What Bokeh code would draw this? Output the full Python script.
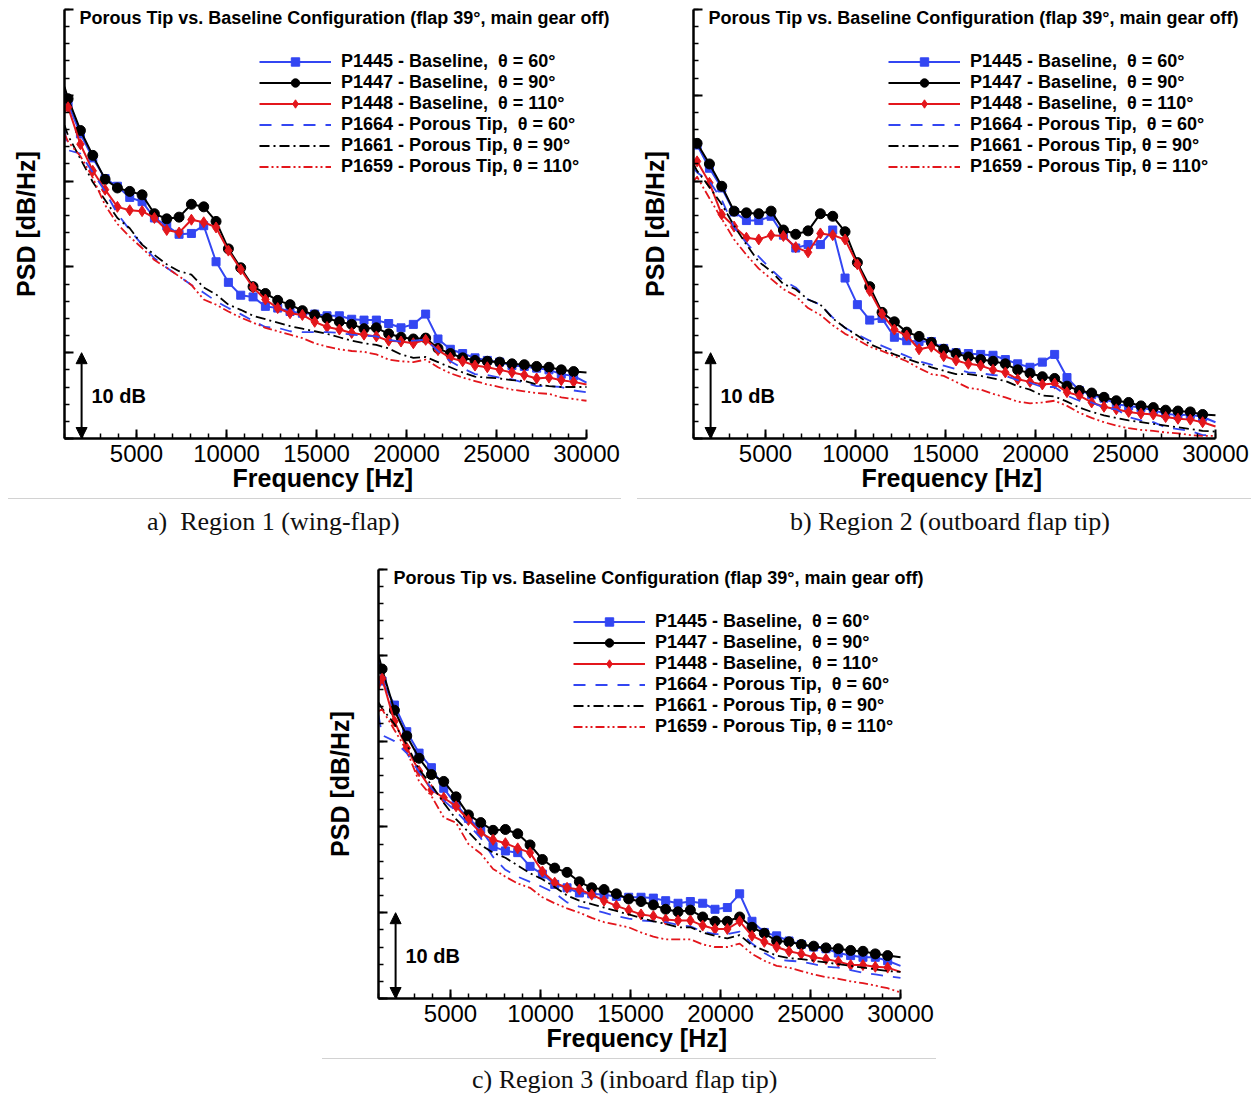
from bokeh.plotting import figure
from bokeh.models import (Range1d, SingleIntervalTicker, CustomJSTickFormatter, Legend,
                          LegendItem, Label, Arrow, NormalHead, Div, Spacer, Title)
from bokeh.layouts import column, row
from bokeh.embed import file_html
from bokeh.resources import INLINE

# ---------------- data (PSD, dB relative to the bottom of the axis) ----------------
FREQ = [1000, 1200, 1885, 2570, 3255, 3940, 4625, 5310, 5995, 6680, 7365,
        8050, 8735, 9420, 10105, 10790, 11475, 12160, 12845, 13530, 14215, 14900,
        15585, 16270, 16955, 17640, 18325, 19010, 19695, 20380, 21065, 21750, 22435,
        23120, 23805, 24490, 25175, 25860, 26545, 27230, 27915, 28600, 29285, 30000]

# Region 1 (wing-flap)
A_P1445 = [40.5, 39.0, 35.5, 32.7, 30.3, 29.4, 28.1, 27.6, 25.7, 24.8, 23.8,
           23.9, 24.8, 20.6, 18.2, 16.7, 16.5, 15.4, 15.2, 14.8, 14.6, 14.5,
           14.3, 14.3, 13.9, 13.8, 13.8, 13.4, 12.9, 13.3, 14.5, 11.6, 10.4,
           9.9, 9.4, 9.1, 8.9, 8.5, 8.4, 8.2, 8.0, 7.5, 7.3, 6.5]
A_P1447 = [41.0, 39.6, 35.9, 33.0, 30.2, 29.2, 28.8, 28.4, 26.2, 25.6, 25.8,
           27.3, 27.0, 25.3, 22.1, 19.9, 17.7, 16.9, 16.1, 15.6, 14.9, 14.4,
           14.0, 13.6, 13.3, 12.8, 12.9, 12.2, 11.8, 11.6, 11.7, 10.5, 9.9,
           9.4, 9.1, 9.0, 8.9, 8.7, 8.6, 8.4, 8.3, 8.0, 7.8, 7.7]
A_P1448 = [38.0, 38.6, 34.3, 31.2, 29.0, 27.0, 26.6, 26.5, 25.7, 24.3, 24.0,
           25.5, 25.2, 24.6, 21.9, 19.7, 17.6, 16.2, 15.2, 14.6, 14.4, 13.6,
           13.0, 12.7, 12.3, 12.1, 11.9, 11.4, 11.3, 11.1, 11.5, 10.3, 9.4,
           9.0, 8.5, 8.3, 8.0, 7.7, 7.4, 7.0, 7.1, 6.8, 6.6, 6.3]
A_P1664 = [36.0, 33.6, 33.2, 31.0, 28.8, 26.2, 24.3, 22.6, 21.0, 19.9, 18.9,
           17.9, 17.0, 16.0, 15.2, 14.5, 13.7, 13.0, 12.9, 12.5, 12.4, 12.4,
           12.4, 12.3, 12.1, 12.0, 11.9, 11.5, 11.3, 11.4, 11.5, 10.2, 9.0,
           8.2, 7.5, 7.4, 7.1, 6.9, 6.5, 6.1, 6.1, 6.0, 5.6, 5.4]
A_P1661 = [36.5, 35.3, 32.6, 29.9, 27.8, 25.7, 24.5, 22.6, 21.4, 20.3, 19.5,
           19.1, 17.6, 16.8, 15.6, 15.0, 14.3, 13.9, 13.5, 13.1, 12.8, 12.5,
           12.2, 11.8, 11.4, 11.1, 10.9, 10.5, 9.8, 9.4, 9.5, 8.9, 8.3,
           7.7, 7.2, 7.1, 7.0, 6.8, 6.7, 6.3, 6.1, 6.0, 6.0, 6.0]
A_P1659 = [35.5, 34.6, 32.9, 30.4, 27.2, 25.0, 23.5, 22.2, 20.8, 19.9, 18.9,
           17.9, 16.2, 15.6, 14.8, 14.1, 13.5, 12.9, 12.5, 12.1, 11.7, 11.1,
           10.7, 10.4, 10.2, 10.1, 9.8, 9.2, 9.0, 8.9, 9.2, 8.3, 7.6,
           7.1, 6.7, 6.3, 6.0, 5.7, 5.5, 5.3, 5.2, 4.8, 4.6, 4.4]

# Region 2 (outboard flap tip)
B_P1445 = [35.0, 34.2, 31.5, 29.2, 26.4, 25.4, 25.4, 25.9, 23.7, 22.2, 22.6,
           22.6, 24.3, 18.7, 15.6, 13.8, 14.0, 11.8, 11.4, 11.3, 11.3, 10.5,
           10.0, 9.9, 9.8, 9.7, 9.2, 8.7, 8.3, 8.9, 9.8, 7.1, 5.6,
           5.1, 4.7, 4.0, 3.8, 3.6, 3.3, 2.9, 2.7, 2.8, 2.5, 1.9]
B_P1447 = [35.0, 34.4, 32.0, 29.4, 26.5, 26.3, 26.2, 26.5, 24.3, 23.8, 24.2,
           26.2, 25.9, 24.1, 20.5, 17.7, 14.7, 13.6, 12.4, 11.9, 11.2, 10.4,
           9.9, 9.5, 9.2, 9.0, 8.7, 8.0, 7.6, 7.2, 7.0, 6.1, 5.6,
           5.3, 4.8, 4.4, 4.2, 3.8, 3.6, 3.3, 3.2, 3.1, 2.8, 2.7]
B_P1448 = [32.0, 32.3, 29.8, 26.1, 24.7, 23.4, 23.2, 23.7, 23.6, 22.3, 21.7,
           23.9, 23.7, 23.2, 20.3, 17.2, 14.5, 12.7, 12.0, 10.4, 10.7, 9.6,
           9.1, 8.7, 8.5, 8.0, 7.7, 6.9, 6.6, 6.3, 6.4, 5.4, 5.0,
           4.2, 3.7, 3.4, 3.1, 2.9, 2.8, 2.5, 2.3, 2.2, 1.9, 1.4]
B_P1664 = [31.5, 31.0, 30.0, 27.8, 24.6, 22.8, 21.2, 19.7, 18.4, 17.6, 16.2,
           15.6, 14.1, 12.9, 12.1, 11.4, 10.8, 10.2, 9.6, 9.0, 8.6, 8.5,
           8.1, 7.7, 7.6, 7.4, 7.3, 6.8, 6.5, 6.0, 6.0, 5.0, 4.4,
           4.2, 3.6, 3.4, 2.5, 2.1, 1.9, 1.3, 1.1, 0.9, 0.4, 0.4]
B_P1661 = [32.0, 31.2, 29.3, 27.3, 24.8, 22.6, 20.6, 19.5, 18.0, 17.4, 16.2,
           15.6, 14.0, 12.9, 12.0, 11.0, 10.4, 9.8, 9.3, 8.8, 8.3, 7.9,
           7.5, 7.5, 7.3, 7.0, 6.7, 6.1, 5.7, 5.0, 4.9, 4.3, 3.6,
           3.1, 2.7, 2.4, 2.1, 1.9, 1.7, 1.5, 1.3, 1.1, 0.9, 0.8]
B_P1659 = [30.0, 30.5, 28.0, 25.6, 23.2, 21.4, 19.8, 18.6, 17.4, 16.6, 15.2,
           14.4, 13.2, 12.2, 11.5, 10.7, 10.2, 9.6, 9.0, 8.2, 7.5, 7.3,
           6.6, 5.9, 5.7, 5.2, 4.8, 4.3, 4.1, 4.2, 4.4, 3.8, 3.0,
           2.4, 1.9, 1.5, 1.2, 1.0, 0.9, 0.7, 0.6, 0.4, 0.3, 0.3]

# Region 3 (inboard flap tip)
C_P1445 = [40.0, 37.0, 34.2, 31.1, 28.6, 26.9, 24.5, 22.6, 21.0, 19.7, 17.7,
           17.2, 17.0, 15.4, 14.5, 13.3, 12.9, 12.3, 12.2, 12.1, 11.9, 11.8,
           11.8, 11.7, 11.4, 11.1, 11.3, 11.1, 10.4, 10.6, 12.2, 9.0, 7.7,
           7.3, 6.7, 6.3, 6.0, 5.8, 5.3, 5.0, 4.8, 4.8, 4.4, 3.8]
C_P1447 = [40.0, 38.4, 33.6, 30.6, 28.0, 26.1, 25.3, 23.5, 21.4, 20.5, 19.6,
           19.7, 19.2, 17.9, 16.2, 15.2, 14.7, 13.6, 12.9, 12.7, 12.2, 11.6,
           11.3, 10.9, 10.4, 10.1, 10.3, 9.5, 9.0, 9.0, 9.5, 8.3, 7.6,
           6.7, 6.6, 6.3, 6.1, 5.9, 5.8, 5.6, 5.5, 5.2, 5.0, 4.8]
C_P1448 = [36.0, 37.3, 32.3, 29.2, 26.5, 24.3, 23.4, 22.4, 20.8, 19.3, 18.5,
           18.1, 17.5, 17.0, 14.8, 13.5, 12.9, 12.7, 12.1, 11.4, 10.8, 10.3,
           9.8, 9.6, 9.2, 9.1, 9.1, 8.5, 8.1, 8.1, 9.0, 7.3, 6.6,
           6.0, 5.5, 5.2, 4.8, 4.6, 4.3, 3.9, 3.9, 3.7, 3.6, 3.1]
C_P1664 = [33.0, 30.7, 30.0, 28.6, 26.4, 24.5, 23.1, 21.8, 20.3, 18.7, 16.5,
           15.0, 14.2, 13.6, 13.0, 12.3, 11.2, 10.7, 10.4, 10.0, 9.6, 9.3,
           9.1, 9.0, 8.9, 8.6, 8.4, 7.8, 7.5, 7.5, 7.8, 6.4, 5.3,
           4.5, 4.4, 4.3, 4.0, 3.7, 3.6, 3.3, 3.0, 2.8, 2.6, 2.4]
C_P1661 = [34.5, 33.8, 32.0, 29.6, 26.7, 24.9, 22.8, 20.9, 19.4, 17.9, 17.0,
           16.4, 15.5, 14.6, 13.9, 13.0, 12.0, 11.4, 11.0, 10.6, 10.2, 9.8,
           9.4, 9.0, 8.7, 8.3, 8.3, 7.7, 7.3, 7.0, 7.4, 6.2, 5.6,
           5.0, 4.7, 4.6, 4.4, 4.2, 4.0, 3.8, 3.6, 3.4, 3.2, 3.1]
C_P1659 = [33.5, 33.7, 31.3, 28.9, 25.3, 23.6, 21.1, 20.5, 18.0, 16.9, 15.1,
           14.2, 13.4, 12.9, 11.8, 11.1, 10.5, 10.0, 9.4, 8.9, 8.6, 8.3,
           7.7, 7.2, 6.9, 6.9, 6.9, 6.3, 6.0, 6.0, 6.4, 5.2, 4.4,
           3.8, 3.6, 3.2, 2.8, 2.5, 2.3, 2.0, 1.8, 1.5, 1.2, 0.7]

SERIES_LABELS = ["P1445 - Baseline,  \u03b8 = 60\u00b0",
                 "P1447 - Baseline,  \u03b8 = 90\u00b0",
                 "P1448 - Baseline,  \u03b8 = 110\u00b0",
                 "P1664 - Porous Tip,  \u03b8 = 60\u00b0",
                 "P1661 - Porous Tip, \u03b8 = 90\u00b0",
                 "P1659 - Porous Tip, \u03b8 = 110\u00b0"]
PANEL_TITLE = "Porous Tip vs. Baseline Configuration (flap 39\u00b0, main gear off)"
CAPTIONS = ["a)&nbsp; Region 1 (wing-flap)",
            "b) Region 2 (outboard flap tip)",
            "c) Region 3 (inboard flap tip)"]
X_LABEL = "Frequency [Hz]"
Y_LABEL = "PSD [dB/Hz]"
X_MIN, X_MAX = 1000, 30000
X_FRAME_MAX = 31667          # frame runs a little past the axis end, room for the title
Y_MIN, Y_MAX = 0, 50
SCALE_BAR_FREQ = 1950
SCALE_BAR_DB = 10

# ---------------- styling ----------------
BLUE = "#3346f2"
BLACK = "#000000"
RED = "#e3161c"
FONT = "Liberation Sans"
STYLES = [
    dict(color=BLUE, dash="solid", marker="square", size=8, width=2),
    dict(color=BLACK, dash="solid", marker="circle", size=10, width=2),
    dict(color=RED, dash="solid", marker="diamond", size=11, width=2),
    dict(color=BLUE, dash="12 10", marker=None, width=1.8),
    dict(color=BLACK, dash="10 4 2 4", marker=None, width=1.8),
    dict(color=RED, dash="9 3 2 3 2 3", marker=None, width=1.8),
]


def make_panel(series, right_border):
    p = figure(frame_width=552, frame_height=429,
               x_range=Range1d(X_MIN, X_FRAME_MAX), y_range=Range1d(Y_MIN, Y_MAX),
               output_backend="svg", toolbar_location=None,
               min_border_left=55, min_border_right=right_border,
               min_border_top=1, min_border_bottom=60)
    p.outline_line_color = None
    p.xgrid.visible = False
    p.ygrid.visible = False
    p.background_fill_color = "white"
    p.border_fill_color = "white"

    p.xaxis.ticker = SingleIntervalTicker(interval=5000, num_minor_ticks=5)
    p.xaxis.bounds = (X_MIN, X_MAX)
    p.yaxis.ticker = SingleIntervalTicker(interval=10, num_minor_ticks=5)
    p.yaxis.formatter = CustomJSTickFormatter(code="return '';")
    for ax in (p.xaxis[0], p.yaxis[0]):
        ax.axis_line_width = 2.5
        ax.axis_line_color = "black"
        ax.major_tick_in = 9
        ax.major_tick_out = 0
        ax.minor_tick_in = 5
        ax.minor_tick_out = 0
        ax.major_tick_line_width = 2
        ax.minor_tick_line_width = 1.5
        ax.major_tick_line_color = "black"
        ax.minor_tick_line_color = "black"
        ax.axis_label_text_font = FONT
        ax.axis_label_text_font_style = "bold"
        ax.axis_label_text_font_size = "25px"
        ax.axis_label_text_color = "black"
        ax.major_label_text_font = FONT
        ax.major_label_text_font_size = "24px"
        ax.major_label_text_color = "black"
    p.xaxis.major_label_standoff = 6
    p.yaxis.axis_label = Y_LABEL
    p.yaxis.major_label_standoff = 0
    p.yaxis.axis_label_standoff = 25

    # x-axis title, centred under the axis itself (1000..30000), not under the frame
    p.add_layout(Title(text=X_LABEL, align="left", offset=168, standoff=-6,
                       text_font=FONT, text_font_style="bold", text_font_size="25px",
                       text_color="black"), "below")

    items = []
    for ys, label, st in zip(series, SERIES_LABELS, STYLES):
        rs = [p.line(FREQ, ys, line_color=st["color"], line_width=st["width"],
                     line_dash=st["dash"], line_join="round")]
        if st["marker"]:
            rs.append(p.scatter(FREQ[1:-1], ys[1:-1], marker=st["marker"], size=st["size"],
                                fill_color=st["color"], line_color=st["color"]))
        items.append(LegendItem(label=label, renderers=rs))

    legend = Legend(items=items, location=(195, 261), orientation="vertical",
                    glyph_width=72, glyph_height=21, label_height=21, spacing=0,
                    label_standoff=10, padding=0, margin=0,
                    border_line_alpha=0, background_fill_alpha=0,
                    label_text_font=FONT, label_text_font_style="bold",
                    label_text_font_size="18px", label_text_color="black")
    p.add_layout(legend)

    p.add_layout(Label(x=15, y=421, x_units="screen", y_units="screen", text=PANEL_TITLE,
                       text_font=FONT, text_font_style="bold", text_font_size="18px",
                       text_baseline="middle", text_color="black"))
    p.add_layout(Arrow(start=NormalHead(size=11, fill_color="black", line_color="black"),
                       end=NormalHead(size=11, fill_color="black", line_color="black"),
                       x_start=SCALE_BAR_FREQ, y_start=Y_MIN,
                       x_end=SCALE_BAR_FREQ, y_end=Y_MIN + SCALE_BAR_DB,
                       line_width=2, line_color="black"))
    p.add_layout(Label(x=2500, y=Y_MIN + SCALE_BAR_DB / 2, text="%d dB" % SCALE_BAR_DB,
                       text_font=FONT, text_font_style="bold", text_font_size="20px",
                       text_baseline="middle", text_color="black"))
    return p


def caption(text, width, height, pad_left, pad_top):
    html = ("<div style=\"width:%dpx;height:%dpx;box-sizing:border-box;"
            "border-top:1px solid #d2d2d2;padding-left:%dpx;padding-top:%dpx;"
            "font-family:'Liberation Serif',serif;font-size:26px;line-height:24px;"
            "color:#111;white-space:nowrap;overflow:visible;\">%s</div>"
            % (width, height, pad_left, pad_top, text))
    return Div(text=html, width=width, height=height, margin=0)


pa = make_panel([A_P1445, A_P1447, A_P1448, A_P1664, A_P1661, A_P1659], 6)
pb = make_panel([B_P1445, B_P1447, B_P1448, B_P1664, B_P1661, B_P1659], 7)
pc = make_panel([C_P1445, C_P1447, C_P1448, C_P1664, C_P1661, C_P1659], 7)

col_a = column(pa, caption(CAPTIONS[0], 613, 70, 139, 11), spacing=0)
col_b = column(pb, caption(CAPTIONS[1], 614, 70, 153, 11), spacing=0)
col_c = column(pc, caption(CAPTIONS[2], 614, 33, 150, 9), spacing=0)

layout = column(row(col_a, col_b, spacing=15),
                row(Spacer(width=314, height=10, margin=0), col_c, spacing=0),
                spacing=0, margin=(8, 0, 0, 8))

open("out.html", "w").write(file_html(layout, INLINE, title="Porous Tip vs. Baseline"))
